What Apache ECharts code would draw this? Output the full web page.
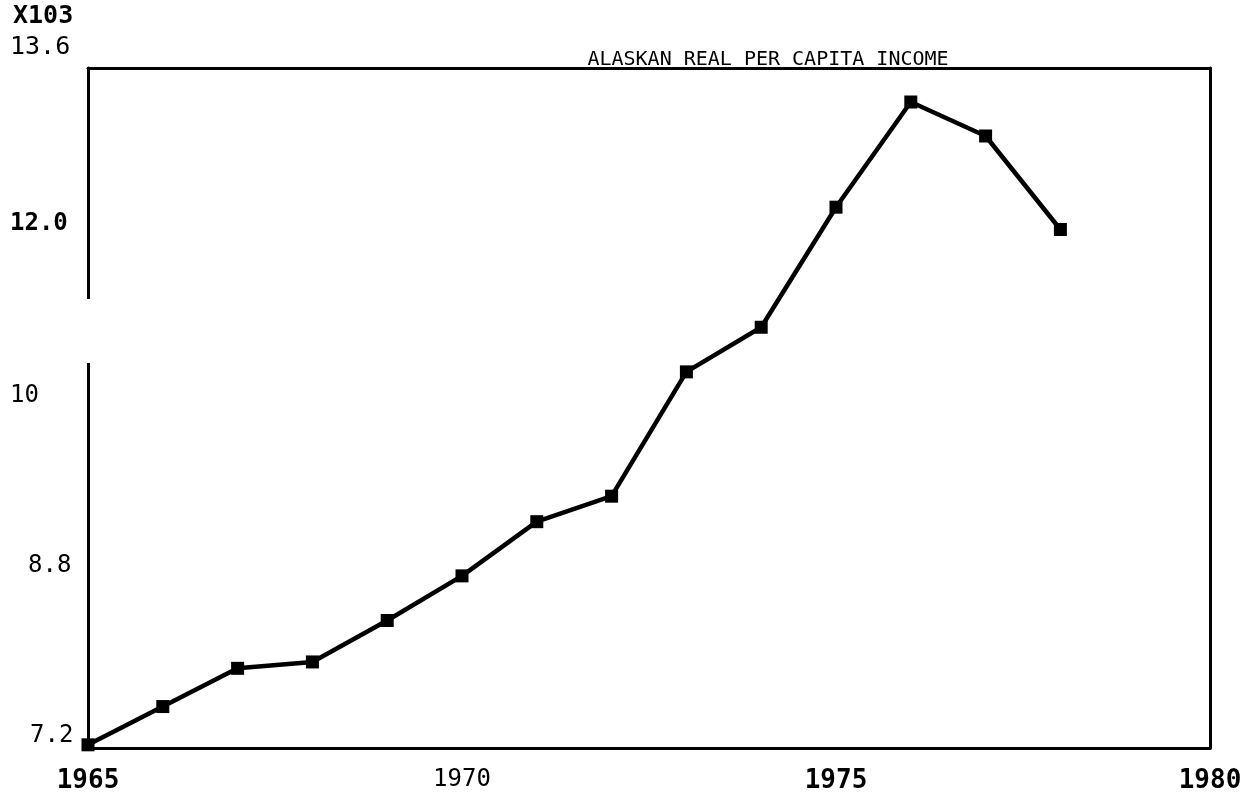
<!DOCTYPE html>
<html>
<head>
<meta charset="utf-8">
<script src="https://cdn.jsdelivr.net/npm/echarts@6/dist/echarts.min.js"></script>
<style>
  html, body { margin: 0; padding: 0; background: #fff; }
  #chart { width: 1254px; height: 795px; }
</style>
</head>
<body>
<div id="chart"></div>
<script>
// values, thousands of dollars
var years = [1965, 1966, 1967, 1968, 1969, 1970, 1971, 1972, 1973, 1974, 1975, 1976, 1977, 1978]
var income = [7.23, 7.59, 7.95, 8.01, 8.40, 8.82, 9.33, 9.57, 10.74, 11.16, 12.29, 13.28, 12.96, 12.08]
var yTicks = { '7.2': '7.2', '8.8': '8.8', '10.4': '10', '12': '12.0', '13.6': '13.6' }

var chart = echarts.init(document.getElementById('chart'))
var mono = 'DejaVu Sans Mono'

chart.setOption({
  animation: false,
  backgroundColor: '#fff',
  title: {
    text: 'ALASKAN REAL PER CAPITA INCOME',
    left: 763,
    top: 45,
    textAlign: 'center',
    textStyle: { fontFamily: mono, fontSize: 20, fontWeight: 'normal', color: '#000' }
  },
  graphic: [{
    type: 'text',
    left: 13,
    top: 4,
    style: { text: 'X103', font: 'bold 25px ' + mono, fill: '#000' }
  }, {
    // the plotter left a gap in the left frame line
    type: 'rect',
    left: 84,
    top: 299,
    shape: { width: 8, height: 64 },
    style: { fill: '#fff' },
    z: 100
  }],
  grid: { left: 88, right: 44, top: 68, bottom: 47 },
  xAxis: [{
    type: 'value',
    min: 1965,
    max: 1980,
    interval: 5,
    axisLine: { lineStyle: { color: '#000', width: 3 } },
    axisTick: { show: false },
    splitLine: { show: false },
    axisLabel: {
      margin: 20,
      formatter: function (v) {
        return v === 1970 ? '{n|' + v + '}' : '{b|' + v + '}'
      },
      rich: {
        b: { color: '#000', fontFamily: mono, fontSize: 26, fontWeight: 'bold' },
        n: { color: '#000', fontFamily: mono, fontSize: 24, fontWeight: 'normal' }
      }
    }
  }, {
    type: 'value',
    position: 'top',
    min: 1965,
    max: 1980,
    axisLine: { show: true, lineStyle: { color: '#000', width: 3 } },
    axisTick: { show: false },
    axisLabel: { show: false },
    splitLine: { show: false }
  }],
  yAxis: [{
    type: 'value',
    min: 7.2,
    max: 13.6,
    interval: 1.6,
    axisLine: { show: true, lineStyle: { color: '#000', width: 3 } },
    axisTick: { show: false },
    splitLine: { show: false },
    axisLabel: {
      align: 'left', margin: 78,
      verticalAlign: 'bottom', showMinLabel: true, showMaxLabel: true,
      formatter: function (v) {
        var k = String(Math.round(v * 10) / 10)
        var t = yTicks[k] || ''
        if (k === '13.6') return '{top|' + t + '}'
        if (k === '12') return '{bold|' + t + '}'
        if (k === '8.8') return '{in1|' + t + '}'
        if (k === '7.2') return '{in2|' + t + '}'
        return '{n|' + t + '}'
      },
      rich: {
        n: { color: '#000', fontFamily: mono, fontSize: 24 },
        top: { color: '#000', fontFamily: mono, fontSize: 25, padding: [0, 0, 8, 0] },
        bold: { color: '#000', fontFamily: mono, fontSize: 24, fontWeight: 'bold', padding: [0, 0, 2, 0] },
        in1: { color: '#000', fontFamily: mono, fontSize: 24, padding: [0, 0, 0, 18] },
        in2: { color: '#000', fontFamily: mono, fontSize: 24, padding: [0, 0, 0, 20] }
      }
    }
  }, {
    type: 'value',
    position: 'right',
    min: 7.2,
    max: 13.6,
    axisLine: { show: true, lineStyle: { color: '#000', width: 3 } },
    axisTick: { show: false },
    axisLabel: { show: false },
    splitLine: { show: false }
  }],
  series: [{
    type: 'line',
    data: years.map(function (y, i) { return [y, income[i]] }),
    symbol: 'rect',
    symbolSize: 13,
    lineStyle: { color: '#000', width: 4.5 },
    itemStyle: { color: '#000' },
    clip: false
  }]
})
</script>
</body>
</html>
